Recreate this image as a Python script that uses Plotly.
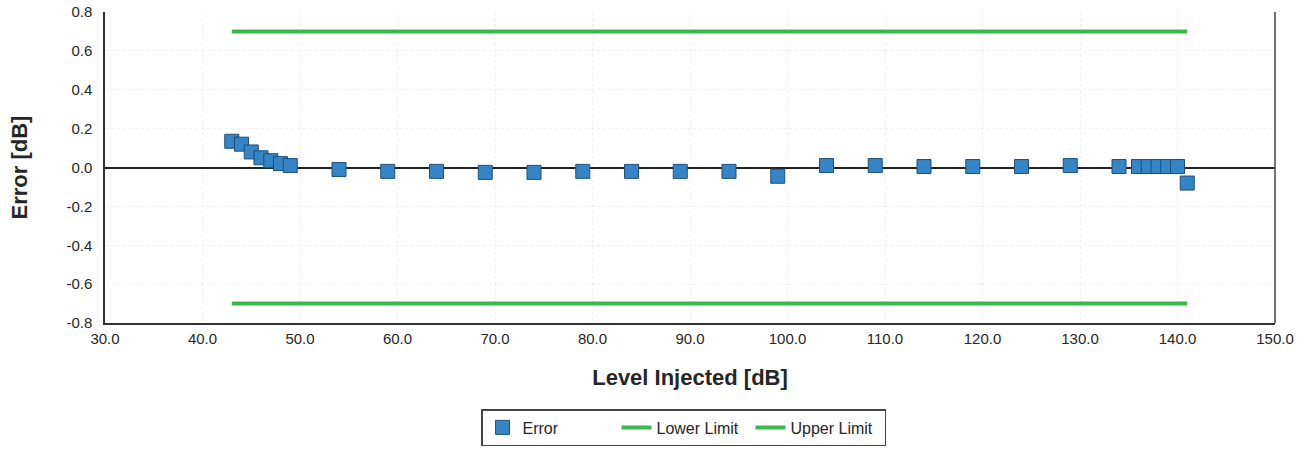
import plotly.graph_objects as go

# Injected level [dB] and measured error [dB]
level_db = [43, 44, 45, 46, 47, 48, 49, 54, 59, 64, 69, 74, 79, 84, 89, 94, 99,
            104, 109, 114, 119, 124, 129, 134, 136, 137, 138, 139, 140, 141]
error_db = [0.135, 0.12, 0.08, 0.05, 0.035, 0.02, 0.01, -0.01, -0.02, -0.02, -0.025,
            -0.025, -0.02, -0.02, -0.02, -0.02, -0.045, 0.01, 0.01, 0.005, 0.005,
            0.005, 0.01, 0.005, 0.005, 0.005, 0.005, 0.005, 0.005, -0.08]

# Tolerance band
limit_x = [43, 141]
lower_limit = [-0.7, -0.7]
upper_limit = [0.7, 0.7]

x_ticks = [30, 40, 50, 60, 70, 80, 90, 100, 110, 120, 130, 140, 150]
y_ticks = [-0.8, -0.6, -0.4, -0.2, 0.0, 0.2, 0.4, 0.6, 0.8]

FONT = "Liberation Sans, Arial, sans-serif"
GREEN = "#3ab94a"
TEXT = "#262626"
W, H = 1309, 452

fig = go.Figure()
fig.add_trace(go.Scatter(
    x=level_db, y=error_db, mode="markers", name="Error",
    marker=dict(symbol="square", size=14, color="#3584c6",
                line=dict(color="#1f4f7a", width=1)),
))
fig.add_trace(go.Scatter(
    x=limit_x, y=lower_limit, mode="lines", name="Lower Limit",
    line=dict(color=GREEN, width=4),
))
fig.add_trace(go.Scatter(
    x=limit_x, y=upper_limit, mode="lines", name="Upper Limit",
    line=dict(color=GREEN, width=4),
))

fig.update_layout(
    width=W, height=H,
    margin=dict(l=105, r=34, t=12, b=129),
    paper_bgcolor="white", plot_bgcolor="white",
    font=dict(family=FONT, color=TEXT, size=15),
    showlegend=True,
    legend=dict(
        orientation="h", xref="container", yref="container",
        x=481 / W, xanchor="left", y=1 - 409 / H, yanchor="top",
        bordercolor="#444444", borderwidth=1.5, font=dict(size=16, color=TEXT),
        entrywidth=89, entrywidthmode="pixels",
        itemwidth=30,
    ),
    xaxis=dict(
        range=[30, 150], tickvals=x_ticks,
        ticktext=[f"{v:.1f}" for v in x_ticks],
        showline=True, linecolor="#333333", linewidth=1.5,
        showgrid=True, gridcolor="rgba(0,0,0,0.06)", griddash="dot",
        zeroline=False, ticks="", ticklen=0, ticklabelstandoff=1,
        automargin=False,
        title=dict(text="<b>Level Injected [dB]</b>", font=dict(size=22, color=TEXT),
                   standoff=24),
    ),
    yaxis=dict(
        range=[-0.8, 0.8], tickvals=y_ticks,
        ticktext=[f"{v:.1f}" for v in y_ticks],
        showline=True, linecolor="#333333", linewidth=1.5,
        showgrid=True, gridcolor="rgba(0,0,0,0.06)", griddash="dot",
        zeroline=True, zerolinecolor="#222222", zerolinewidth=1.5,
        ticks="", ticklen=0, ticklabelstandoff=8,
        automargin=False,
        title=dict(text="<b>Error [dB]</b>", font=dict(size=22, color=TEXT),
                   standoff=33),
    ),
    shapes=[dict(type="line", xref="paper", yref="paper", x0=1, x1=1, y0=0, y1=1,
                 line=dict(color="#444444", width=1.5), layer="above")],
)

fig.write_html("out.html")
